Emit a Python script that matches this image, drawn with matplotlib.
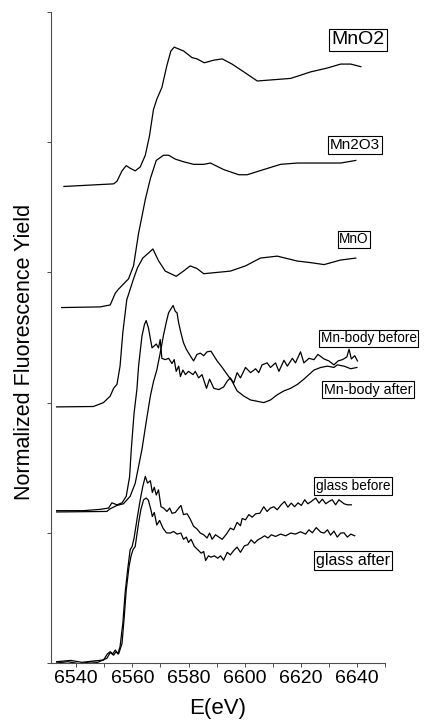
import matplotlib
matplotlib.use("Agg")
import matplotlib.pyplot as plt
from matplotlib.ticker import MultipleLocator

plt.rcParams['font.family'] = ['Liberation Sans', 'DejaVu Sans']

# spectra (offsets already included)
mno2_e = [6535.6, 6553.3, 6554.5, 6556.3, 6557.8, 6559.2, 6561.0, 6562.8, 6564.6, 6566.1,
          6567.5, 6568.7, 6570.5, 6572.3, 6573.7, 6574.9, 6578.3, 6581.2, 6583.0, 6585.6,
          6589.0, 6592.0, 6595.5, 6599.7, 6604.5, 6610.4, 6616.4, 6623.5, 6629.5, 6634.2,
          6637.8, 6641.4]
mno2_y = [3.66, 3.68, 3.70, 3.78, 3.82, 3.80, 3.78, 3.81, 3.90, 4.05,
          4.25, 4.33, 4.42, 4.59, 4.70, 4.73, 4.70, 4.65, 4.64, 4.61,
          4.63, 4.64, 4.60, 4.54, 4.47, 4.48, 4.49, 4.54, 4.57, 4.60,
          4.60, 4.58]

mn2o3_e = [6534.8, 6548.5, 6552.1, 6553.9, 6555.0, 6558.6, 6560.4, 6562.2, 6564.6, 6566.4,
           6568.5, 6571.1, 6572.9, 6575.3, 6578.2, 6581.8, 6585.4, 6587.8, 6592.5, 6597.9,
           6600.9, 6606.8, 6612.8, 6618.8, 6627.1, 6634.2, 6639.6]
mn2o3_y = [2.73, 2.735, 2.75, 2.84, 2.87, 2.95, 3.05, 3.30, 3.56, 3.72,
           3.86, 3.90, 3.90, 3.87, 3.85, 3.83, 3.83, 3.84, 3.79, 3.75,
           3.75, 3.79, 3.83, 3.84, 3.84, 3.84, 3.86]

mno_e = [6533.0, 6546.1, 6549.7, 6552.1, 6553.3, 6554.5, 6555.6, 6556.6, 6558.0, 6560.4,
         6561.8, 6563.7, 6565.8, 6567.3, 6569.3, 6571.7, 6575.6, 6578.2, 6580.6, 6583.0,
         6585.4, 6590.2, 6594.9, 6600.3, 6605.6, 6611.6, 6618.8, 6623.5, 6628.3, 6634.2,
         6639.6]
mno_y = [1.967, 1.97, 2.00, 2.05, 2.11, 2.14, 2.28, 2.54, 2.79, 2.95,
         3.035, 3.11, 3.15, 3.18, 3.09, 3.01, 2.97, 3.01, 3.05, 3.03,
         2.99, 3.00, 3.01, 3.05, 3.11, 3.125, 3.087, 3.075, 3.06, 3.095,
         3.11]

body_before_e = [6533.0, 6537.8, 6542.5, 6548.5, 6551.5, 6552.7, 6554.5, 6556.3, 6557.8, 6559.0,
                 6559.6, 6560.6, 6561.6, 6562.2, 6563.4, 6564.3, 6564.9, 6565.7, 6567.0, 6568.5,
                 6569.3, 6569.9, 6570.5, 6571.7, 6572.9, 6574.1, 6574.9, 6575.6, 6576.5, 6577.1,
                 6578.0, 6578.9, 6580.0, 6581.6, 6582.4, 6583.6, 6584.8, 6586.4, 6587.5, 6589.0,
                 6590.8, 6592.5, 6593.8, 6594.9, 6596.1, 6597.3, 6598.5, 6600.3, 6602.1, 6603.9,
                 6605.0, 6606.2, 6608.0, 6609.2, 6611.0, 6612.2, 6614.0, 6615.2, 6617.0, 6618.1,
                 6619.9, 6621.1, 6622.9, 6624.7, 6626.1, 6628.3, 6630.0, 6631.8, 6633.3, 6634.8,
                 6636.4, 6637.2, 6638.0, 6639.2, 6640.2]
body_before_y = [1.17, 1.17, 1.17, 1.18, 1.19, 1.23, 1.215, 1.23, 1.28, 1.43,
                 1.64, 1.92, 2.10, 2.28, 2.51, 2.60, 2.63, 2.575, 2.42, 2.45,
                 2.42, 2.485, 2.34, 2.33, 2.34, 2.30, 2.33, 2.24, 2.28, 2.20,
                 2.25, 2.215, 2.24, 2.215, 2.24, 2.19, 2.215, 2.11, 2.18, 2.11,
                 2.10, 2.12, 2.165, 2.19, 2.15, 2.23, 2.19, 2.27, 2.23, 2.26,
                 2.23, 2.29, 2.305, 2.27, 2.305, 2.24, 2.325, 2.28, 2.34, 2.305,
                 2.39, 2.305, 2.34, 2.33, 2.37, 2.335, 2.32, 2.29, 2.32, 2.33,
                 2.35, 2.41, 2.335, 2.36, 2.32]

body_after_e = [6533.0, 6550.9, 6552.1, 6554.5, 6556.8, 6559.2, 6561.0, 6562.2, 6563.4, 6565.2,
                6566.4, 6567.5, 6568.7, 6569.9, 6571.1, 6572.1, 6572.9, 6574.5, 6575.3, 6575.9,
                6576.5, 6577.3, 6578.2, 6579.2, 6580.6, 6581.8, 6583.0, 6584.2, 6585.4, 6586.6,
                6588.0, 6589.0, 6590.2, 6592.0, 6593.8, 6595.5, 6597.3, 6599.7, 6602.1, 6604.5,
                6606.8, 6609.2, 6611.6, 6614.0, 6616.4, 6618.8, 6621.1, 6622.9, 6624.7, 6627.1,
                6629.5, 6631.8, 6633.0, 6635.4, 6637.8, 6640.0]
body_after_y = [1.16, 1.164, 1.185, 1.21, 1.223, 1.28, 1.38, 1.51, 1.64, 1.89,
                2.05, 2.16, 2.25, 2.38, 2.52, 2.62, 2.69, 2.746, 2.70, 2.69,
                2.61, 2.535, 2.46, 2.41, 2.36, 2.32, 2.37, 2.38, 2.36, 2.39,
                2.395, 2.36, 2.32, 2.27, 2.215, 2.165, 2.09, 2.05, 2.02, 2.01,
                2.00, 2.02, 2.06, 2.09, 2.11, 2.14, 2.18, 2.215, 2.25, 2.27,
                2.28, 2.27, 2.29, 2.28, 2.26, 2.27]

glass_before_e = [6533.0, 6538.0, 6542.0, 6546.0, 6549.7, 6551.1, 6552.1, 6553.0, 6553.9, 6554.8,
                  6555.6, 6556.6, 6557.4, 6558.3, 6559.2, 6559.9, 6560.6, 6561.8, 6562.8, 6563.7,
                  6564.6, 6565.4, 6566.4, 6567.1, 6567.8, 6568.5, 6569.3, 6570.2, 6571.1, 6572.3,
                  6573.3, 6574.1, 6575.3, 6576.5, 6577.3, 6578.2, 6579.5, 6580.6, 6581.8, 6583.0,
                  6584.2, 6585.4, 6586.6, 6587.5, 6588.4, 6589.6, 6590.8, 6592.0, 6593.5, 6594.9,
                  6596.1, 6597.3, 6598.5, 6599.1, 6600.3, 6601.5, 6602.7, 6603.9, 6605.4, 6606.8,
                  6608.0, 6609.2, 6610.4, 6611.6, 6613.0, 6614.2, 6615.4, 6616.6, 6617.8, 6619.0,
                  6620.2, 6621.4, 6622.5, 6623.7, 6625.3, 6626.5, 6627.7, 6628.9, 6630.0, 6631.2,
                  6632.4, 6633.6, 6635.4, 6636.6, 6638.0]
glass_before_y = [0.01, 0.02, 0.005, 0.015, 0.023, 0.07, 0.087, 0.07, 0.10, 0.07,
                  0.125, 0.305, 0.536, 0.715, 0.87, 0.895, 0.96, 1.125, 1.254, 1.356,
                  1.433, 1.382, 1.40, 1.31, 1.35, 1.29, 1.33, 1.20, 1.19, 1.164,
                  1.19, 1.15, 1.156, 1.19, 1.21, 1.14, 1.146, 1.105, 1.05, 1.03,
                  0.998, 0.985, 0.96, 0.998, 0.95, 0.985, 0.967, 0.95, 0.99, 1.036,
                  1.023, 1.08, 1.054, 1.11, 1.10, 1.14, 1.12, 1.146, 1.15, 1.20,
                  1.164, 1.19, 1.20, 1.177, 1.215, 1.24, 1.197, 1.228, 1.20, 1.23,
                  1.21, 1.254, 1.223, 1.24, 1.267, 1.228, 1.258, 1.223, 1.24, 1.254,
                  1.215, 1.254, 1.223, 1.215, 1.215]

glass_after_e = [6533.0, 6537.0, 6541.0, 6545.0, 6547.6, 6550.9, 6552.1, 6553.3, 6554.2, 6555.1,
                 6556.3, 6557.1, 6557.8, 6558.8, 6559.5, 6560.2, 6561.0, 6562.2, 6563.0, 6564.0,
                 6564.9, 6565.7, 6566.6, 6567.1, 6567.8, 6568.7, 6569.7, 6570.9, 6572.1, 6573.5,
                 6574.7, 6575.9, 6577.3, 6578.2, 6579.2, 6580.0, 6580.9, 6582.1, 6583.3, 6584.5,
                 6585.4, 6586.1, 6587.1, 6588.0, 6589.2, 6590.4, 6591.4, 6592.5, 6593.8, 6594.9,
                 6596.1, 6597.3, 6598.5, 6599.9, 6601.1, 6602.3, 6603.5, 6604.7, 6605.9, 6607.1,
                 6608.3, 6609.5, 6611.0, 6612.8, 6614.6, 6616.4, 6618.1, 6619.9, 6621.7, 6622.9,
                 6624.1, 6625.5, 6627.1, 6628.3, 6629.5, 6630.6, 6631.8, 6633.0, 6634.2, 6635.4,
                 6636.6, 6637.8, 6639.2]
glass_after_y = [0.0, 0.01, -0.005, 0.008, 0.005, 0.036, 0.08, 0.06, 0.087, 0.07,
                 0.15, 0.356, 0.56, 0.74, 0.82, 0.87, 0.895, 1.075, 1.177, 1.254,
                 1.267, 1.25, 1.177, 1.125, 1.156, 1.06, 1.095, 1.036, 1.00, 0.998,
                 1.01, 0.99, 0.998, 0.95, 0.967, 0.926, 0.95, 0.895, 0.87, 0.844,
                 0.856, 0.787, 0.823, 0.813, 0.823, 0.805, 0.823, 0.79, 0.85, 0.83,
                 0.864, 0.89, 0.85, 0.90, 0.908, 0.946, 0.92, 0.946, 0.96, 0.977,
                 0.96, 0.985, 0.972, 0.99, 0.977, 0.998, 0.99, 1.008, 0.99, 1.023,
                 1.00, 1.04, 1.005, 0.998, 1.023, 0.982, 1.013, 0.967, 0.998, 1.00,
                 0.967, 0.99, 0.977]

labels = ["MnO2", "Mn2O3", "MnO", "Mn-body before", "Mn-body after", "glass before", "glass after"]
# label box centres (axes fraction) and font sizes
label_pos = [(0.919, 0.957), (0.910, 0.796), (0.907, 0.651), (0.951, 0.499),
             (0.949, 0.420), (0.904, 0.272), (0.904, 0.157)]
label_fs = [14, 11, 9.8, 9.8, 10.3, 9.8, 11.5]

fig = plt.figure(figsize=(4.31, 7.22), dpi=100)
ax = fig.add_axes([51 / 431, 1 - 663 / 722, 334 / 431, 651 / 722])

curves = [(mno2_e, mno2_y), (mn2o3_e, mn2o3_y), (mno_e, mno_y),
          (body_before_e, body_before_y), (body_after_e, body_after_y),
          (glass_before_e, glass_before_y), (glass_after_e, glass_after_y)]
for e, y in curves:
    ax.plot(e, y, color='black', lw=0.9)

for s, (x, y), fs in zip(labels, label_pos, label_fs):
    ax.text(x, y, s, transform=ax.transAxes, ha='center', va='center', fontsize=fs,
            bbox=dict(boxstyle='square,pad=0.12', fc='white', ec='black', lw=0.8))

ax.set_xlim(6531, 6650)
ax.set_ylim(0, 5)
ax.xaxis.set_major_locator(MultipleLocator(20))
ax.xaxis.set_minor_locator(MultipleLocator(10))
ax.yaxis.set_major_locator(MultipleLocator(1))
ax.set_yticklabels([])
ax.tick_params(axis='x', which='both', direction='out', length=3, width=0.7,
               labelsize=14, pad=2, colors='0.3', labelcolor='black')
ax.tick_params(axis='y', direction='out', length=3, width=0.7, colors='0.3')

for side in ['top', 'right']:
    ax.spines[side].set_visible(False)
for side in ['left', 'bottom']:
    ax.spines[side].set_linewidth(0.8)
    ax.spines[side].set_color('0.3')

ax.set_xlabel('E(eV)', fontsize=16, labelpad=8)
ax.set_ylabel('Normalized Fluorescence Yield', fontsize=15.5, va='center')
ax.yaxis.set_label_coords(-0.078, 0.478)

fig.savefig('out.png', dpi=100)
